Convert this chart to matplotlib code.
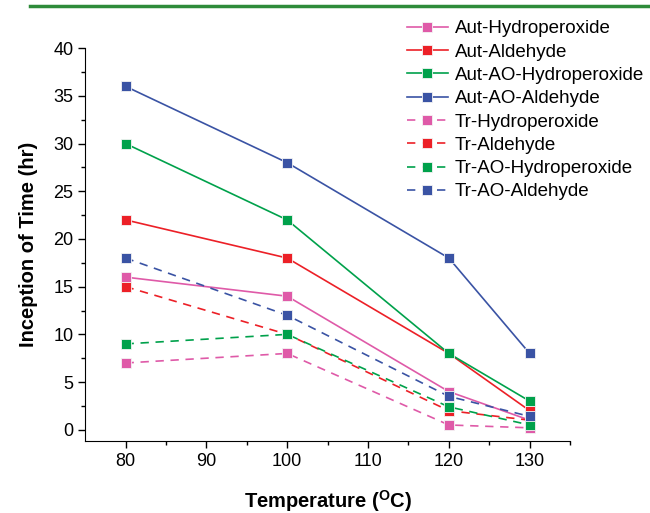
import matplotlib
matplotlib.use("Agg")
import matplotlib.pyplot as plt
from matplotlib.lines import Line2D

plt.rcParams['font.family'] = ['Liberation Sans', 'DejaVu Sans']
plt.rcParams['mathtext.fontset'] = 'custom'
plt.rcParams['mathtext.rm'] = 'Liberation Sans'
plt.rcParams['mathtext.bf'] = 'Liberation Sans:bold'

# Données
temperature = [80, 100, 120, 130]
aut_hydro = [16, 14, 4, 1]
aut_ald = [22, 18, 8, 2]
aut_ao_hydro = [30, 22, 8, 3]
aut_ao_ald = [36, 28, 18, 8]
tr_hydro = [7, 8, 0.5, 0.2]
tr_ald = [15, 10, 2, 1]
tr_ao_hydro = [9, 10, 2.4, 0.5]
tr_ao_ald = [18, 12, 3.5, 1.4]

labels = ["Aut-Hydroperoxide", "Aut-Aldehyde", "Aut-AO-Hydroperoxide", "Aut-AO-Aldehyde",
          "Tr-Hydroperoxide", "Tr-Aldehyde", "Tr-AO-Hydroperoxide", "Tr-AO-Aldehyde"]
series = [aut_hydro, aut_ald, aut_ao_hydro, aut_ao_ald,
          tr_hydro, tr_ald, tr_ao_hydro, tr_ao_ald]
colors = ['#df5aa8', '#ec2027', '#00a14b', '#3a53a4'] * 2
styles = ['-'] * 4 + [(0, (5, 4))] * 4

fig = plt.figure(figsize=(6.5, 5.13), dpi=100)
ax = fig.add_axes([0.131, 0.140, 0.746, 0.766])

handles = []
for y, lab, c, ls in zip(series, labels, colors, styles):
    h, = ax.plot(temperature, y, color=c, linestyle=ls, linewidth=1.2,
                 marker='s', markersize=7, markerfacecolor=c,
                 markeredgecolor='#f4f4f4', markeredgewidth=0.6, label=lab)
    handles.append(h)

ax.set_xlim(75, 135)
ax.set_ylim(-1.2, 40)
ax.set_xticks([80, 90, 100, 110, 120, 130])
ax.set_xticks([85, 95, 105, 115, 125, 135], minor=True)
ax.set_yticks(range(0, 41, 5))
ax.set_yticks([2.5 + 5 * i for i in range(8)], minor=True)
ax.tick_params(which='major', direction='out', length=5, width=1, labelsize=13)
ax.tick_params(which='minor', direction='out', length=3, width=1)
ax.spines['top'].set_visible(False)
ax.spines['right'].set_visible(False)

ax.set_xlabel(r'Temperature ($\mathbf{^{O}}$C)', fontsize=14.5, fontweight='bold', labelpad=13)
ax.set_ylabel('Inception of Time (hr)', fontsize=14.5, fontweight='bold', labelpad=11)

fig.legend(handles=handles, loc='upper left', bbox_to_anchor=(0.62, 0.968),
           frameon=False, fontsize=13.5, handlelength=2.2, numpoints=1,
           labelspacing=0.33, handletextpad=0.35, borderpad=0.2, borderaxespad=0)

# ligne verte en haut
fig.add_artist(Line2D([0.046, 1.0], [0.988, 0.988], color='#2e8b3a', linewidth=2.5,
                      transform=fig.transFigure))

fig.savefig('out.png', dpi=100)
